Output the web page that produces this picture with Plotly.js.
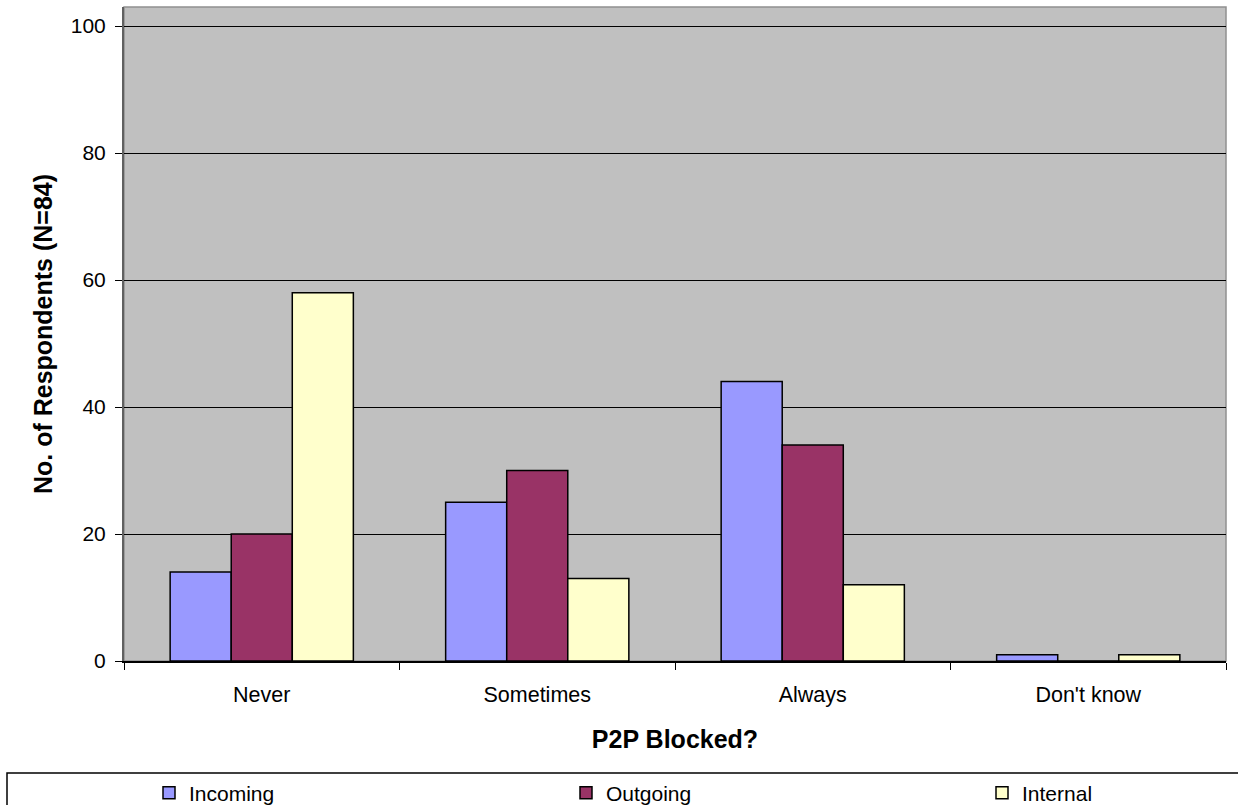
<!DOCTYPE html>
<html>
<head>
<meta charset="utf-8">
<script src="https://cdn.plot.ly/plotly-3.0.1.min.js"></script>
<style>html,body{margin:0;padding:0;background:#fff;}#chart{width:1238px;height:805px;}</style>
</head>
<body>
<div id="chart"></div>
<script>
const categories = ["Never", "Sometimes", "Always", "Don't know"];
const incoming = [14, 25, 44, 1];
const outgoing = [20, 30, 34, 0];
const internal = [58, 13, 12, 1];
const seriesNames = ["Incoming", "Outgoing", "Internal"];
const yTicks = [0, 20, 40, 60, 80, 100];

const font = "Liberation Sans, Arial, sans-serif";
const colors = ["#9999FF", "#993366", "#FFFFCC"];
const legendIds = ["legend", "legend2", "legend3"];
const data = [incoming, outgoing, internal].map((vals, i) => ({
  type: "bar",
  name: seriesNames[i],
  legend: legendIds[i],
  x: categories,
  y: vals,
  marker: {color: colors[i], line: {color: "#000000", width: 1.5}},
  hoverinfo: "x+y+name"
}));

const W = 1238, H = 805, L = 124, R = 12, T = 7, B = 144;
const pw = W - L - R, ph = H - T - B;
const px2x = p => (p - L) / pw;
const py2y = p => (H - B - p) / ph;

const legendLeft = [149, 566, 982];
function legendAt(px) {
  return {
    orientation: "h",
    x: px2x(px), xanchor: "left",
    y: py2y(793), yanchor: "middle",
    font: {family: font, size: 21, color: "#000"},
    bgcolor: "rgba(0,0,0,0)",
    borderwidth: 0
  };
}

const layout = {
  width: W, height: H,
  margin: {l: L, r: R, t: T, b: B, autoexpand: false},
  paper_bgcolor: "#ffffff",
  plot_bgcolor: "#C0C0C0",
  barmode: "group",
  bargap: 0.335,
  bargroupgap: 0,
  font: {family: font, color: "#000000"},
  showlegend: true,
  legend: legendAt(legendLeft[0]),
  legend2: legendAt(legendLeft[1]),
  legend3: legendAt(legendLeft[2]),
  xaxis: {
    type: "category",
    tickson: "boundaries",
    ticks: "outside", ticklen: 7, tickcolor: "#000", tickwidth: 1,
    showline: true, linecolor: "#000", linewidth: 1.5,
    showgrid: false,
    tickfont: {family: font, size: 21.5, color: "#000"},
    ticklabelstandoff: 14,
    title: {text: "P2P Blocked?", font: {family: font, size: 25, color: "#000", weight: "bold"}, standoff: 24},
    automargin: false
  },
  yaxis: {
    range: [0, 103],
    tickvals: yTicks,
    ticktext: yTicks.map(String),
    ticks: "outside", ticklen: 7, tickcolor: "#000", tickwidth: 1,
    showline: true, linecolor: "#606060", linewidth: 2,
    showgrid: true, gridcolor: "#000000", gridwidth: 1,
    zeroline: false,
    tickfont: {family: font, size: 21, color: "#000"},
    ticklabelstandoff: 5,
    title: {text: "No. of Respondents (N=84)", font: {family: font, size: 25, color: "#000", weight: "bold"}, standoff: 11},
    automargin: false
  },
  shapes: [
    {type: "rect", xref: "paper", yref: "paper", x0: 0, x1: 1, y0: 0, y1: 1,
     line: {color: "#909090", width: 1.5}, fillcolor: "rgba(0,0,0,0)", layer: "below"},
    {type: "rect", xref: "paper", yref: "paper", x0: px2x(7), x1: px2x(1242), y0: py2y(773), y1: py2y(810),
     line: {color: "#000000", width: 1.5}, fillcolor: "rgba(0,0,0,0)"}
  ]
};

Plotly.newPlot("chart", data, layout, {displayModeBar: false, staticPlot: true});
</script>
</body>
</html>
